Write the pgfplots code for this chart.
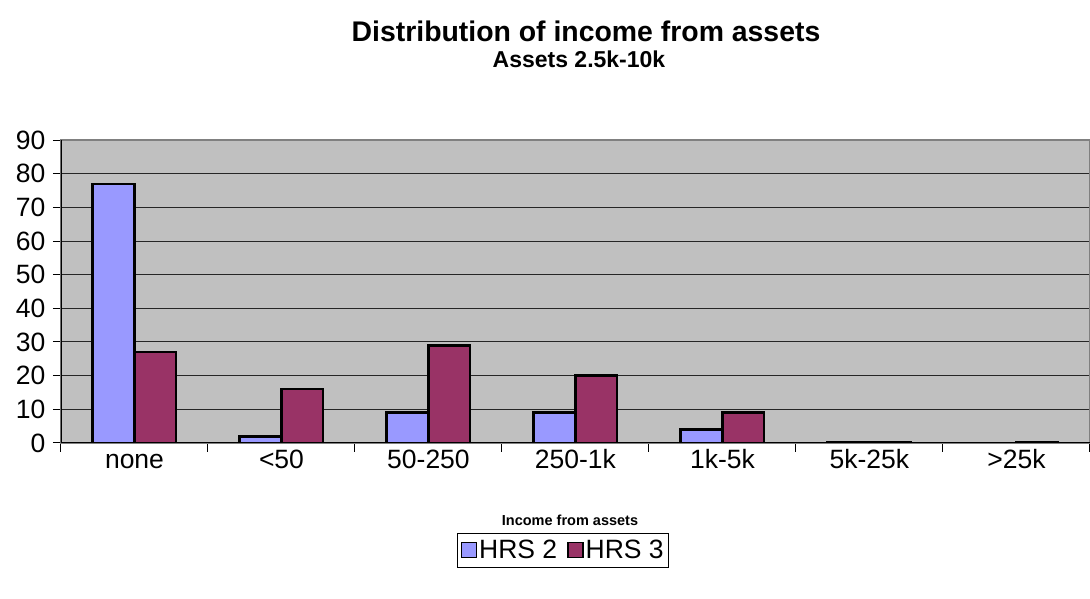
\documentclass[border=0pt]{standalone}
\usepackage{pgfplots}
\pgfplotsset{compat=1.18}
\usepackage{fontspec}
\setmainfont{Liberation Sans}
\definecolor{hrsA}{HTML}{9999FF}
\definecolor{hrsB}{HTML}{993366}
\definecolor{plotbg}{HTML}{C0C0C0}
\begin{document}
\begin{tikzpicture}[x=1pt,y=1pt]
\useasboundingbox (0,0) rectangle (1090,599);
\begin{axis}[
  at={(61pt,156pt)}, anchor=south west,
  scale only axis, width=1029pt, height=303pt,
  xmin=-0.5, xmax=6.5, ymin=0, ymax=90,
  axis background/.style={fill=plotbg},
  axis line style={draw=gray, line width=1.2pt},
  tick pos=left,
  xtick={0,1,2,3,4,5,6},
  xticklabels={none,{<50},50-250,250-1k,1k-5k,5k-25k,{>25k}},
  major x tick style={draw=none},
  minor xtick={-0.5,0.5,1.5,2.5,3.5,4.5,5.5,6.5},
  minor x tick style={draw=black, line width=1pt},
  minor tick length=9pt,
  ytick={0,10,...,90},
  major y tick style={draw=black, line width=1pt},
  major tick length=8pt,
  tick align=outside,
  ymajorgrids, grid style={black!85, line width=1pt},
  tick label style={font=\fontsize{26.5}{30}\selectfont},
  xticklabel style={anchor=base, yshift=-18pt},
  yticklabel style={xshift=-4pt},
  /pgf/number format/assume math mode=true,
  ybar, bar width=0.284,
  legend style={at={(axis description cs:0.385,-0.297)}, anchor=north west,
    legend columns=2, draw=black, line width=1pt, fill=white,
    font=\fontsize{26.5}{30}\selectfont, inner xsep=3pt, inner ysep=5pt,
    nodes={inner sep=2pt},
    /tikz/every even column/.append style={column sep=8pt}},
  legend image code/.code={\draw[#1, line width=1.5pt] (0pt,-7pt) rectangle (15pt,8pt);},
]
\addplot[fill=hrsA, draw=black, line width=2.5pt, bar shift=-0.142] coordinates {(0,77) (1,2) (2,9) (3,9) (4,4) (5,0.3) (6,0)};
\addplot[fill=hrsB, draw=black, line width=2.5pt, bar shift=0.142] coordinates {(0,27) (1,16) (2,29) (3,20) (4,9) (5,0.3) (6,0.2)};
\legend{HRS 2,HRS 3}
\draw[black, line width=1.3pt] (axis cs:-0.5,0) -- (axis cs:6.5,0);
\draw[black, line width=1.3pt] (axis cs:-0.5,0) -- (axis cs:-0.5,90);
\end{axis}
\node[anchor=base, inner sep=0pt, font=\bfseries\fontsize{28.4}{32}\selectfont] at (586,557) {Distribution of income from assets};
\node[anchor=base, inner sep=0pt, font=\bfseries\fontsize{23}{27}\selectfont] at (579,531) {Assets 2.5k-10k};
\node[anchor=base, inner sep=0pt, font=\bfseries\fontsize{14.5}{17}\selectfont] at (570,73) {Income from assets};
\end{tikzpicture}
\end{document}
